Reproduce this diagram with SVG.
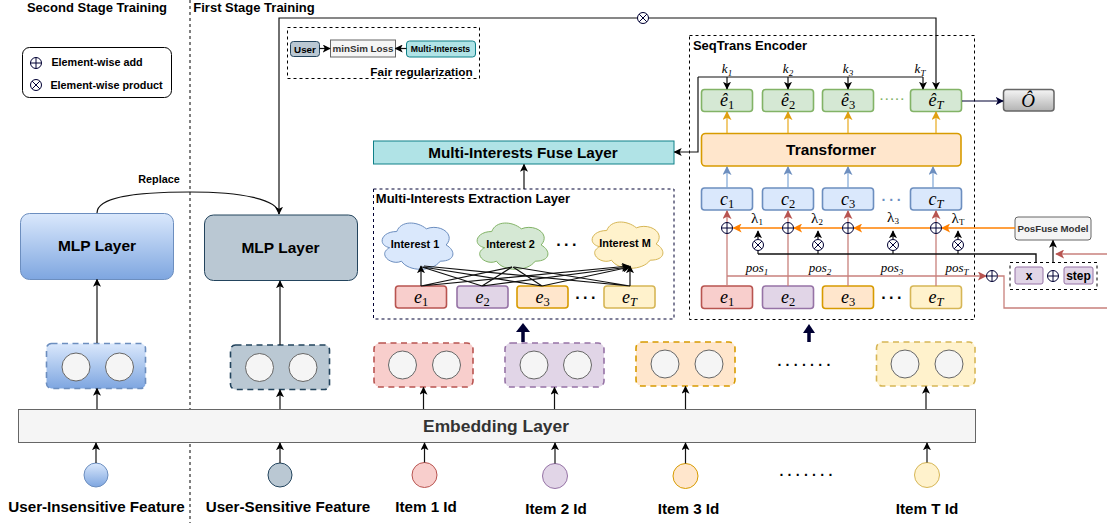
<svg xmlns="http://www.w3.org/2000/svg" width="1107" height="523" viewBox="0 0 1107 523">
<style>
text{font-family:"Liberation Sans",Arial,sans-serif;font-weight:bold;fill:#000;text-anchor:middle}
.m{font-family:"Liberation Serif","Times New Roman",serif;font-weight:normal;font-style:italic;font-size:18px}
.m tspan{font-size:12.5px}
.m tspan.u{font-style:normal}
.ms{font-family:"Liberation Serif","Times New Roman",serif;font-weight:normal;font-style:italic;font-size:13px}
.ms tspan{font-size:9px}
.l{font-style:normal;font-size:15px}
.b{stroke-width:1.6}
.red{fill:#f8cecc;stroke:#b85450}.pur{fill:#e1d5e7;stroke:#9673a6}.org{fill:#ffe6cc;stroke:#d79b00}.yel{fill:#fff2cc;stroke:#d6b656}
.grn{fill:#d5e8d4;stroke:#82b366}.blu{fill:#dae8fc;stroke:#6c8ebf}.slate{fill:#bac8d3;stroke:#23445d}.teal{fill:#b0e3e6;stroke:#0e8088}
.dash{fill:none;stroke:#000;stroke-width:1;stroke-dasharray:3 3}
.emb{stroke-width:1.6;stroke-dasharray:6 4.5}
.cir{fill:#f5f5f5;stroke:#666;stroke-width:1}
.k{fill:none;stroke:#111;stroke-width:1.2;marker-end:url(#ak)}
.k0{fill:none;stroke:#111;stroke-width:1.2}
.o{fill:none;stroke:#e8a91c;stroke-width:1.2;marker-end:url(#ao)}
.bl{fill:none;stroke:#7ea6d6;stroke-width:1.2;marker-end:url(#ab)}
.r{fill:none;stroke:#c8807c;stroke-width:1.3;marker-end:url(#ar)}
.r0{fill:none;stroke:#c8807c;stroke-width:1.3}
.po{fill:none;stroke:#ff8000;stroke-width:1.6;marker-end:url(#ap)}
.op circle,.op path{fill:none;stroke:#000033;stroke-width:1}
</style>
<defs>
<marker id="ak" viewBox="0 0 10 10" refX="9" refY="5" markerWidth="8" markerHeight="8" markerUnits="userSpaceOnUse" orient="auto"><path d="M10,5L0,0L2.500,5L0,10Z" fill="#000"/></marker>
<marker id="an" viewBox="0 0 10 10" refX="9" refY="5" markerWidth="8" markerHeight="8" markerUnits="userSpaceOnUse" orient="auto"><path d="M10,5L0,0L2.500,5L0,10Z" fill="#000033"/></marker>
<marker id="ao" viewBox="0 0 10 10" refX="9" refY="5" markerWidth="9" markerHeight="9" markerUnits="userSpaceOnUse" orient="auto"><path d="M10,5L0,0L2.500,5L0,10Z" fill="#e0a010"/></marker>
<marker id="ab" viewBox="0 0 10 10" refX="9" refY="5" markerWidth="9" markerHeight="9" markerUnits="userSpaceOnUse" orient="auto"><path d="M10,5L0,0L2.500,5L0,10Z" fill="#6c8ebf"/></marker>
<marker id="ar" viewBox="0 0 10 10" refX="9" refY="5" markerWidth="9" markerHeight="9" markerUnits="userSpaceOnUse" orient="auto"><path d="M10,5L0,0L2.500,5L0,10Z" fill="#b85450"/></marker>
<marker id="ap" viewBox="0 0 10 10" refX="9" refY="5" markerWidth="9" markerHeight="9" markerUnits="userSpaceOnUse" orient="auto"><path d="M10,5L0,0L2.500,5L0,10Z" fill="#ff8000"/></marker>
<linearGradient id="gb" x1="0" y1="0" x2="0" y2="1"><stop offset="0" stop-color="#dae8fc"/><stop offset="1" stop-color="#7ea6e0"/></linearGradient>
<linearGradient id="gg" x1="0" y1="0" x2="0" y2="1"><stop offset="0" stop-color="#f5f5f5"/><stop offset="1" stop-color="#b3b3b3"/></linearGradient>
<g id="plus" class="op"><circle r="5.500"/><path d="M-5.500,0H5.500M0,-5.500V5.500"/></g>
<g id="times" class="op"><circle r="5.500"/><path d="M-3.900,-3.900L3.900,3.900M-3.900,3.900L3.900,-3.900"/></g>
<path id="cloud" vector-effect="non-scaling-stroke" d="M25,25C5,25 0,50 16,55C0,67 18,89 31,80C40,100 70,100 80,80C100,80 100,60 87.500,50C100,30 80,10 62.500,20C50,5 30,5 25,25Z"/>
</defs>

<g id="stage-divider"><path d="M190,0V523" fill="none" stroke="#000" stroke-width="1" stroke-dasharray="3 3"/></g>
<g id="stage-labels">
<text x="97" y="12" font-size="13">Second Stage Training</text>
<text x="254" y="12" font-size="13">First Stage Training</text>
</g>

<g id="legend">
<rect x="22.500" y="47.500" width="149" height="50" rx="7" fill="#fff" stroke="#000" stroke-width="1"/>
<use href="#plus" x="36" y="63"/>
<text x="97" y="66" font-size="10.800">Element-wise add</text>
<use href="#times" x="36" y="85"/>
<text x="106.500" y="89" font-size="10.800">Element-wise product</text>
</g>

<g id="fair-regularization">
<rect x="287.500" y="27.500" width="192" height="51" class="dash"/>
<rect x="290.500" y="41.500" width="29" height="15" rx="3" class="slate"/>
<text x="305" y="52.500" font-size="9.800">User</text>
<rect x="330.500" y="40" width="65" height="17" fill="#f5f5f5" stroke="#666"/>
<text x="363" y="52" font-size="9.800" style="fill:#333">minSim Loss</text>
<rect x="406.500" y="41" width="69" height="16" rx="3" class="teal"/>
<text x="440.500" y="52" font-size="8.700">Multi-Interests</text>
<text x="421.500" y="76" font-size="11.800">Fair regularization</text>
</g>

<g id="mlp-left">
<rect x="20.500" y="213.500" width="153" height="66" rx="9" fill="url(#gb)" stroke="#6c8ebf"/>
<text x="97" y="251" font-size="15.500">MLP Layer</text>
</g>
<g id="mlp-right">
<rect x="204.500" y="215" width="153" height="65.500" rx="9" class="slate"/>
<text x="280.500" y="253" font-size="15.500">MLP Layer</text>
</g>
<text id="replace-label" x="159" y="183" font-size="10.800">Replace</text>

<g id="embed-user-insensitive">
<rect x="46.500" y="343.500" width="99" height="45" rx="5" fill="url(#gb)" stroke="#6c8ebf" class="emb"/>
<circle cx="76" cy="367" r="14" class="cir"/><circle cx="119.500" cy="367" r="14" class="cir"/>
</g>
<g id="embed-user-sensitive">
<rect x="230.500" y="345" width="99" height="44.500" rx="5" class="slate emb"/>
<circle cx="259.500" cy="367.500" r="14" class="cir"/><circle cx="303" cy="367.500" r="14" class="cir"/>
</g>
<g id="embed-item-1">
<rect x="374" y="343" width="99" height="44" rx="6" class="red emb"/>
<circle cx="402.500" cy="365" r="14" class="cir"/><circle cx="446.500" cy="365" r="14" class="cir"/>
</g>
<g id="embed-item-2">
<rect x="505" y="343" width="99" height="44" rx="6" class="pur emb"/>
<circle cx="534" cy="365" r="14" class="cir"/><circle cx="577.500" cy="365" r="14" class="cir"/>
</g>
<g id="embed-item-3">
<rect x="636" y="342" width="99" height="44" rx="6" class="org emb"/>
<circle cx="665" cy="364" r="14" class="cir"/><circle cx="709" cy="364" r="14" class="cir"/>
</g>
<g id="embed-item-t">
<rect x="876.500" y="342" width="98.500" height="44" rx="6" class="yel emb"/>
<circle cx="905" cy="364" r="14" class="cir"/><circle cx="949" cy="364" r="14" class="cir"/>
</g>
<text id="dots-embed" x="806" y="370" font-size="14" letter-spacing="3.500">·······</text>

<g id="embedding-layer">
<rect x="18.500" y="409.500" width="957" height="33" fill="#f5f5f5" stroke="#666"/>
<text x="496" y="432" font-size="17.400" style="fill:#333">Embedding Layer</text>
</g>

<g id="input-user-insensitive"><circle cx="96" cy="475" r="12" fill="url(#gb)" stroke="#6c8ebf"/><text x="96.500" y="512" font-size="15.200">User-Insensitive Feature</text></g>
<g id="input-user-sensitive"><circle cx="280" cy="475" r="12" class="slate"/><text x="288" y="512" font-size="15.200">User-Sensitive Feature</text></g>
<g id="input-item-1"><circle cx="424.500" cy="475" r="12.500" class="red"/><text x="426" y="512" font-size="15.200">Item 1 Id</text></g>
<g id="input-item-2"><circle cx="555" cy="476" r="12.500" class="pur"/><text x="556" y="514" font-size="15.200">Item 2 Id</text></g>
<g id="input-item-3"><circle cx="685.500" cy="476" r="12.500" class="org"/><text x="688.500" y="514" font-size="15.200">Item 3 Id</text></g>
<g id="input-item-t"><circle cx="927" cy="475" r="12.500" class="yel"/><text x="927" y="514" font-size="15.200">Item T Id</text></g>
<text id="dots-input" x="808" y="480" font-size="14" letter-spacing="3.500">·······</text>

<g id="fuse-layer">
<rect x="373.500" y="141" width="300.500" height="23" class="teal"/>
<text x="523" y="157.500" font-size="15.300">Multi-Interests Fuse Layer</text>
</g>

<g id="extraction-layer">
<rect x="373.500" y="189" width="300.500" height="130" fill="none" stroke="#000033" stroke-dasharray="3 3"/>
<text x="473" y="203" font-size="13">Multi-Interests Extraction Layer</text>
</g>
<g id="interest-1"><use href="#cloud" transform="translate(377,218) scale(.79,.54)" class="blu"/><text x="415" y="248" font-size="10.900">Interest 1</text></g>
<g id="interest-2"><use href="#cloud" transform="translate(472,218) scale(.79,.54)" class="grn"/><text x="510.500" y="248" font-size="10.900">Interest 2</text></g>
<g id="interest-m"><use href="#cloud" transform="translate(587,217) scale(.79,.54)" class="yel"/><text x="625" y="247" font-size="10.900">Interest M</text></g>
<text id="dots-interest" x="568" y="250" font-size="16" letter-spacing="2.500">···</text>

<g id="x-e1"><rect x="395.500" y="286" width="51" height="22" rx="3" class="red b"/><text class="m" x="421" y="302.500">e<tspan class="u" dy="3">1</tspan></text></g>
<g id="x-e2"><rect x="457" y="286" width="51" height="22" rx="3" class="pur b"/><text class="m" x="482.500" y="302.500">e<tspan class="u" dy="3">2</tspan></text></g>
<g id="x-e3"><rect x="517" y="286" width="51" height="22" rx="3" class="org b"/><text class="m" x="542.500" y="302.500">e<tspan class="u" dy="3">3</tspan></text></g>
<g id="x-et"><rect x="604" y="286" width="51" height="22" rx="3" class="yel b"/><text class="m" x="629.500" y="302.500">e<tspan dy="3">T</tspan></text></g>
<text id="dots-x" x="587" y="303" font-size="16" letter-spacing="2.500">···</text>

<g id="seqtrans-encoder">
<rect x="689.500" y="35.500" width="285" height="284" class="dash"/>
<text x="750" y="50" font-size="13">SeqTrans Encoder</text>
</g>
<g id="hat-e1"><rect x="701.500" y="89.500" width="51" height="22" rx="3" class="grn b"/><text class="m" x="727" y="106">ê<tspan class="u" dy="3">1</tspan></text></g>
<g id="hat-e2"><rect x="762.500" y="89.500" width="51" height="22" rx="3" class="grn b"/><text class="m" x="788" y="106">ê<tspan class="u" dy="3">2</tspan></text></g>
<g id="hat-e3"><rect x="822.500" y="89.500" width="51" height="22" rx="3" class="grn b"/><text class="m" x="848" y="106">ê<tspan class="u" dy="3">3</tspan></text></g>
<g id="hat-et"><rect x="910.500" y="89.500" width="51" height="22" rx="3" class="grn b"/><text class="m" x="936" y="106">ê<tspan dy="3">T</tspan></text></g>
<text id="dots-hat" x="893" y="103" font-size="11" letter-spacing="1.500" style="fill:#82b366">·····</text>

<g id="transformer">
<rect x="701.500" y="133.500" width="259.500" height="32.500" rx="4" class="org b"/>
<text x="831" y="155" font-size="15.400">Transformer</text>
</g>
<g id="c1"><rect x="701.500" y="188" width="51" height="22" rx="3" class="blu b"/><text class="m" x="727" y="204.500">c<tspan class="u" dy="3">1</tspan></text></g>
<g id="c2"><rect x="762.500" y="188" width="51" height="22" rx="3" class="blu b"/><text class="m" x="788" y="204.500">c<tspan class="u" dy="3">2</tspan></text></g>
<g id="c3"><rect x="822.500" y="188" width="51" height="22" rx="3" class="blu b"/><text class="m" x="848" y="204.500">c<tspan class="u" dy="3">3</tspan></text></g>
<g id="ct"><rect x="910.500" y="188" width="51" height="22" rx="3" class="blu b"/><text class="m" x="936" y="204.500">c<tspan dy="3">T</tspan></text></g>
<text id="dots-c" x="893" y="205" font-size="14" letter-spacing="3" style="fill:#6c8ebf">···</text>
<g id="e1"><rect x="701.500" y="286" width="51" height="22.500" rx="3" class="red b"/><text class="m" x="727" y="302.500">e<tspan class="u" dy="3">1</tspan></text></g>
<g id="e2"><rect x="762.500" y="286" width="51" height="22.500" rx="3" class="pur b"/><text class="m" x="788" y="302.500">e<tspan class="u" dy="3">2</tspan></text></g>
<g id="e3"><rect x="822.500" y="286" width="51" height="22.500" rx="3" class="org b"/><text class="m" x="848" y="302.500">e<tspan class="u" dy="3">3</tspan></text></g>
<g id="et"><rect x="910.500" y="286" width="51" height="22.500" rx="3" class="yel b"/><text class="m" x="936" y="302.500">e<tspan dy="3">T</tspan></text></g>
<text id="dots-e" x="893" y="303" font-size="16" letter-spacing="2.500">···</text>

<g id="output"><rect x="1003.500" y="89.500" width="50.500" height="21.500" rx="3" fill="url(#gg)" stroke="#666" stroke-width="1.500"/><text class="m" x="1028" y="107" style="font-size:19px">Ô</text></g>

<g id="posfuse-model"><rect x="1015" y="217" width="76" height="23" rx="3" fill="#f5f5f5" stroke="#666"/><text x="1053" y="232" font-size="9.700" style="fill:#333">PosFuse Model</text></g>
<g id="step-box">
<rect x="1010" y="262.500" width="87" height="27" class="dash"/>
<rect x="1015" y="267" width="28" height="17" rx="2" class="pur"/><text x="1029" y="280" font-size="12">x</text>
<rect x="1064" y="267" width="29" height="17" rx="2" class="pur"/><text x="1078.500" y="280" font-size="12">step</text>
<use href="#plus" x="1053" y="276"/>
</g>

<g id="labels">
<text class="ms" x="727" y="73">k<tspan dy="3">1</tspan></text>
<text class="ms" x="788" y="73">k<tspan dy="3">2</tspan></text>
<text class="ms" x="848" y="73">k<tspan dy="3">3</tspan></text>
<text class="ms" x="920" y="73">k<tspan dy="3">T</tspan></text>
<text class="ms l" x="757" y="223">λ<tspan dy="2">1</tspan></text>
<text class="ms l" x="817" y="223">λ<tspan dy="2">2</tspan></text>
<text class="ms l" x="893" y="222">λ<tspan dy="2">3</tspan></text>
<text class="ms l" x="958" y="223">λ<tspan dy="2">T</tspan></text>
<text class="ms" x="757" y="272">pos<tspan dy="3">1</tspan></text>
<text class="ms" x="820" y="272">pos<tspan dy="3">2</tspan></text>
<text class="ms" x="892" y="272">pos<tspan dy="3">3</tspan></text>
<text class="ms" x="957" y="272">pos<tspan dy="3">T</tspan></text>
</g>

<g id="connectors">
<path class="k" d="M97,343V279.500"/>
<path class="k" d="M280,345V281"/>
<path class="k" d="M97,213C97,197 135,192 190,192C240,192 279,199 279,214"/>
<path class="k" d="M279,214V18H936V89"/>
<circle cx="643" cy="18" r="5.500" fill="#fff"/><use href="#times" x="643" y="18"/>
<path class="k" d="M97,409V388.500"/>
<path class="k" d="M280,409V390"/>
<path class="k" d="M423.500,409V387.500"/>
<path class="k" d="M554.500,409V387.500"/>
<path class="k" d="M685.500,409V386.500"/>
<path class="k" d="M926,409V386.500"/>
<path class="k" d="M96,463V443"/>
<path class="k" d="M280,463V443"/>
<path class="k" d="M424.500,462.500V443"/>
<path class="k" d="M555,463.500V443"/>
<path class="k" d="M685.500,463.500V443"/>
<path class="k" d="M927,462.500V443"/>
<path class="k" d="M319.500,48.500H330"/>
<path class="k" d="M406.500,48.500H395.500"/>
<path class="k" d="M524,189V164.500"/>
<path class="k" d="M698,77V152H674.500"/>
<path class="k0" d="M698,77H923"/>
<path class="k" d="M727,77V89"/>
<path class="k" d="M788,77V89"/>
<path class="k" d="M848,77V89"/>
<path class="k" d="M923,77V89"/>
<path d="M962,101H1003" fill="none" stroke="#000033" stroke-width="1.200" marker-end="url(#an)"/>
<path class="o" d="M727,133V112"/><path class="o" d="M788,133V112"/><path class="o" d="M848,133V112"/><path class="o" d="M936,133V112"/>
<path class="bl" d="M727,188V167"/><path class="bl" d="M788,188V167"/><path class="bl" d="M848,188V167"/><path class="bl" d="M933,188V167"/>
<path class="r" d="M727,222V211"/><path class="r" d="M788,222V211"/><path class="r" d="M848,222V211"/><path class="r" d="M936,222V211"/>
<path class="r0" d="M727,286V234"/><path class="r0" d="M788,286V234"/><path class="r0" d="M848,286V234"/><path class="r0" d="M936,286V234"/>
<path class="po" d="M1015,228H942"/><path class="po" d="M930,228H854"/><path class="po" d="M842,228H794"/><path class="po" d="M782,228H733.500"/>
<use href="#plus" x="727" y="228"/><use href="#plus" x="788" y="228"/><use href="#plus" x="848" y="228"/><use href="#plus" x="936" y="228"/>
<path class="k" d="M758,239V231"/><path class="k" d="M818,239V231"/><path class="k" d="M893,239V231"/><path class="k" d="M958,239V231"/>
<use href="#times" x="758" y="245"/><use href="#times" x="818" y="245"/><use href="#times" x="893" y="245"/><use href="#times" x="958" y="245"/>
<path class="k0" d="M758,250.500V254M818,250.500V254M893,250.500V254M958,250.500V254"/>
<path fill="none" stroke="#111" stroke-width="1.400" d="M758,254H1036V262"/>
<path class="k" d="M1053,262V240.500"/>
<path class="r" d="M1107,254H1056"/>
<path class="r" d="M727,276H986"/>
<use href="#plus" x="992" y="276"/>
<path class="r0" d="M997.500,276H1004V308H1107"/>
<path class="k" d="M421,286V266"/>
<path class="k" d="M421,286L512,267M421,286L629,266"/>
<path class="k" d="M482,286L422,267M482,286L512,267M482,286L629,267"/>
<path class="k" d="M542,286L423,267M542,286L513,267M542,286L630,267"/>
<path class="k" d="M630,286L424,266M630,286L514,267M630,286V266"/>
<path d="M523,342V331" stroke="#000033" stroke-width="3.500" fill="none"/><path d="M516,332L523,323L530,332Z" fill="#000033"/>
<path d="M809,342V332" stroke="#000033" stroke-width="3.500" fill="none"/><path d="M803,333L809,324L815,333Z" fill="#000033"/>
</g>
</svg>
